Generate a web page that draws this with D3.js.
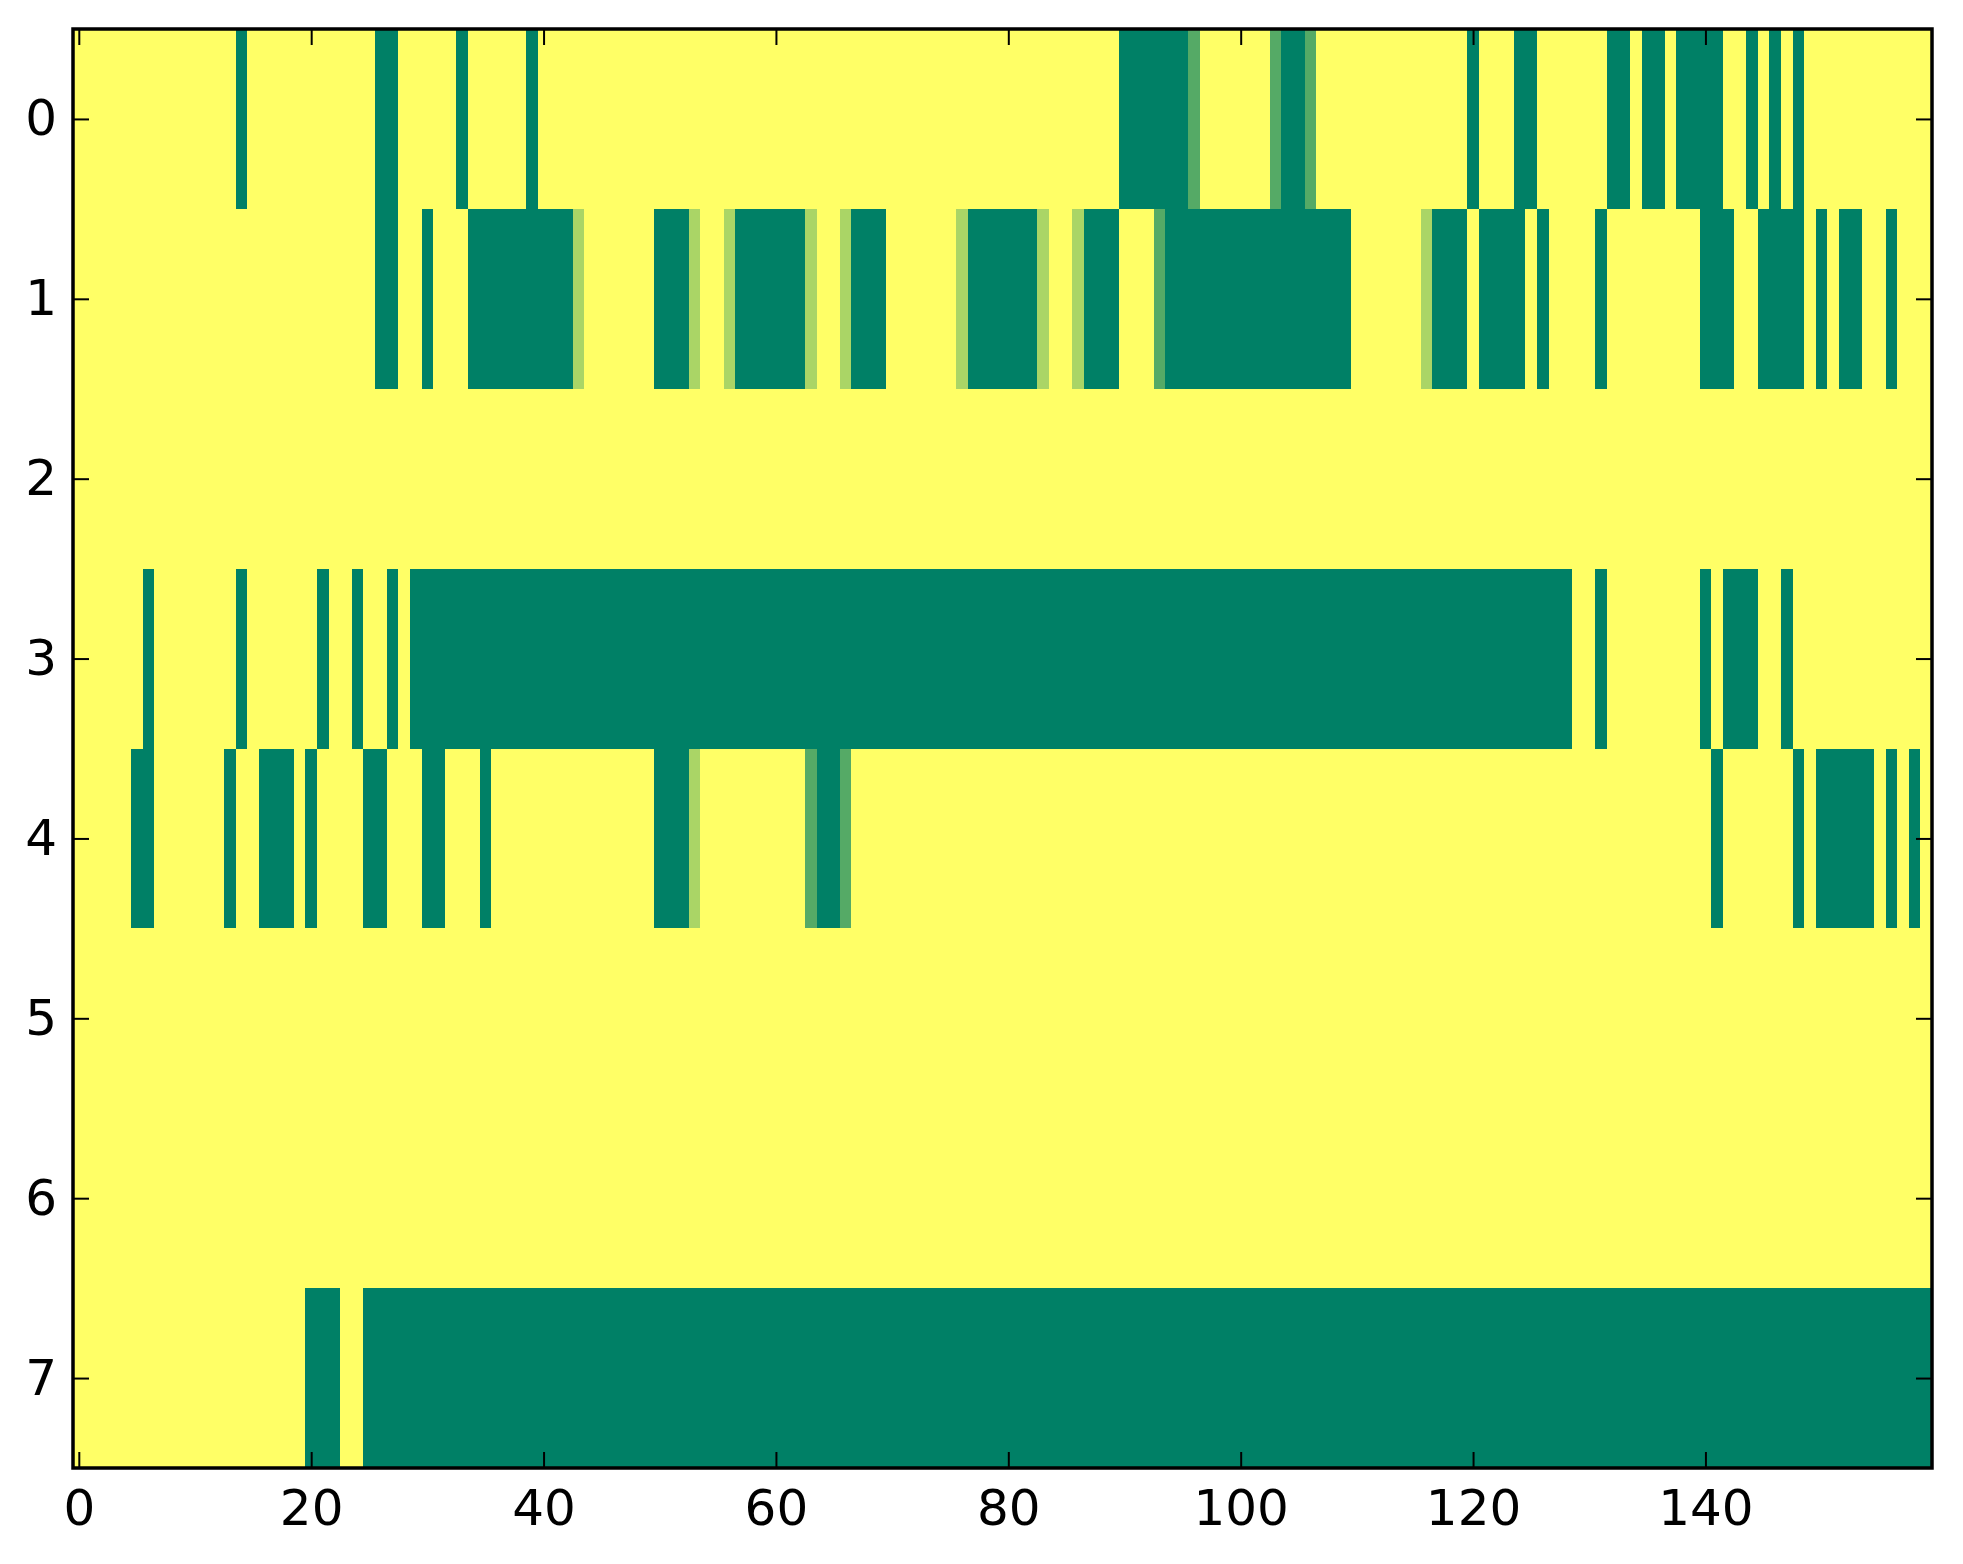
<!DOCTYPE html>
<html>
<head>
<meta charset="utf-8">
<script src="https://cdn.jsdelivr.net/npm/d3@7"></script>
<style>
  html, body { margin: 0; padding: 0; background: #ffffff; }
  svg { display: block; }
  .tick text { font-family: "DejaVu Sans", sans-serif; font-size: 50px; fill: #000; }
</style>
</head>
<body>
<svg id="chart" width="1963" height="1564"></svg>
<script>
// Level values: 0 = dark green (min), 1 = mid green, 2 = light green, 3 = yellow (max)
const rowLabels = [0, 1, 2, 3, 4, 5, 6, 7];
const xTickValues = [0, 20, 40, 60, 80, 100, 120, 140];

const row0 = [
 3,3,3,3,3,3,3,3,3,3, 3,3,3,3,0,3,3,3,3,3, 3,3,3,3,3,3,0,0,3,3, 3,3,3,0,3,3,3,3,3,0,
 3,3,3,3,3,3,3,3,3,3, 3,3,3,3,3,3,3,3,3,3, 3,3,3,3,3,3,3,3,3,3, 3,3,3,3,3,3,3,3,3,3,
 3,3,3,3,3,3,3,3,3,3, 0,0,0,0,0,0,1,3,3,3, 3,3,3,1,0,0,1,3,3,3, 3,3,3,3,3,3,3,3,3,3,
 0,3,3,3,0,0,3,3,3,3, 3,3,0,0,3,0,0,3,0,0, 0,0,3,3,0,3,0,3,0,3, 3,3,3,3,3,3,3,3,3,3
];
const row1 = [
 3,3,3,3,3,3,3,3,3,3, 3,3,3,3,3,3,3,3,3,3, 3,3,3,3,3,3,0,0,3,3, 0,3,3,3,0,0,0,0,0,0,
 0,0,0,2,3,3,3,3,3,3, 0,0,0,2,3,3,2,0,0,0, 0,0,0,2,3,3,2,0,0,0, 3,3,3,3,3,3,2,0,0,0,
 0,0,0,2,3,3,2,0,0,0, 3,3,3,1,0,0,0,0,0,0, 0,0,0,0,0,0,0,0,0,0, 3,3,3,3,3,3,2,0,0,0,
 3,0,0,0,0,3,0,3,3,3, 3,0,3,3,3,3,3,3,3,3, 0,0,0,3,3,0,0,0,0,3, 0,3,0,0,3,3,0,3,3,3
];
const row2 = [
 3,3,3,3,3,3,3,3,3,3, 3,3,3,3,3,3,3,3,3,3, 3,3,3,3,3,3,3,3,3,3, 3,3,3,3,3,3,3,3,3,3,
 3,3,3,3,3,3,3,3,3,3, 3,3,3,3,3,3,3,3,3,3, 3,3,3,3,3,3,3,3,3,3, 3,3,3,3,3,3,3,3,3,3,
 3,3,3,3,3,3,3,3,3,3, 3,3,3,3,3,3,3,3,3,3, 3,3,3,3,3,3,3,3,3,3, 3,3,3,3,3,3,3,3,3,3,
 3,3,3,3,3,3,3,3,3,3, 3,3,3,3,3,3,3,3,3,3, 3,3,3,3,3,3,3,3,3,3, 3,3,3,3,3,3,3,3,3,3
];
const row3 = [
 3,3,3,3,3,3,0,3,3,3, 3,3,3,3,0,3,3,3,3,3, 3,0,3,3,0,3,3,0,3,0, 0,0,0,0,0,0,0,0,0,0,
 0,0,0,0,0,0,0,0,0,0, 0,0,0,0,0,0,0,0,0,0, 0,0,0,0,0,0,0,0,0,0, 0,0,0,0,0,0,0,0,0,0,
 0,0,0,0,0,0,0,0,0,0, 0,0,0,0,0,0,0,0,0,0, 0,0,0,0,0,0,0,0,0,0, 0,0,0,0,0,0,0,0,0,0,
 0,0,0,0,0,0,0,0,0,3, 3,0,3,3,3,3,3,3,3,3, 0,3,0,0,0,3,3,0,3,3, 3,3,3,3,3,3,3,3,3,3
];
const row4 = [
 3,3,3,3,3,0,0,3,3,3, 3,3,3,0,3,3,0,0,0,3, 0,3,3,3,3,0,0,3,3,3, 0,0,3,3,3,0,3,3,3,3,
 3,3,3,3,3,3,3,3,3,3, 0,0,0,2,3,3,3,3,3,3, 3,3,3,1,0,0,1,3,3,3, 3,3,3,3,3,3,3,3,3,3,
 3,3,3,3,3,3,3,3,3,3, 3,3,3,3,3,3,3,3,3,3, 3,3,3,3,3,3,3,3,3,3, 3,3,3,3,3,3,3,3,3,3,
 3,3,3,3,3,3,3,3,3,3, 3,3,3,3,3,3,3,3,3,3, 3,0,3,3,3,3,3,3,0,3, 0,0,0,0,0,3,0,3,0,3
];
const row5 = [
 3,3,3,3,3,3,3,3,3,3, 3,3,3,3,3,3,3,3,3,3, 3,3,3,3,3,3,3,3,3,3, 3,3,3,3,3,3,3,3,3,3,
 3,3,3,3,3,3,3,3,3,3, 3,3,3,3,3,3,3,3,3,3, 3,3,3,3,3,3,3,3,3,3, 3,3,3,3,3,3,3,3,3,3,
 3,3,3,3,3,3,3,3,3,3, 3,3,3,3,3,3,3,3,3,3, 3,3,3,3,3,3,3,3,3,3, 3,3,3,3,3,3,3,3,3,3,
 3,3,3,3,3,3,3,3,3,3, 3,3,3,3,3,3,3,3,3,3, 3,3,3,3,3,3,3,3,3,3, 3,3,3,3,3,3,3,3,3,3
];
const row6 = [
 3,3,3,3,3,3,3,3,3,3, 3,3,3,3,3,3,3,3,3,3, 3,3,3,3,3,3,3,3,3,3, 3,3,3,3,3,3,3,3,3,3,
 3,3,3,3,3,3,3,3,3,3, 3,3,3,3,3,3,3,3,3,3, 3,3,3,3,3,3,3,3,3,3, 3,3,3,3,3,3,3,3,3,3,
 3,3,3,3,3,3,3,3,3,3, 3,3,3,3,3,3,3,3,3,3, 3,3,3,3,3,3,3,3,3,3, 3,3,3,3,3,3,3,3,3,3,
 3,3,3,3,3,3,3,3,3,3, 3,3,3,3,3,3,3,3,3,3, 3,3,3,3,3,3,3,3,3,3, 3,3,3,3,3,3,3,3,3,3
];
const row7 = [
 3,3,3,3,3,3,3,3,3,3, 3,3,3,3,3,3,3,3,3,3, 0,0,0,3,3,0,0,0,0,0, 0,0,0,0,0,0,0,0,0,0,
 0,0,0,0,0,0,0,0,0,0, 0,0,0,0,0,0,0,0,0,0, 0,0,0,0,0,0,0,0,0,0, 0,0,0,0,0,0,0,0,0,0,
 0,0,0,0,0,0,0,0,0,0, 0,0,0,0,0,0,0,0,0,0, 0,0,0,0,0,0,0,0,0,0, 0,0,0,0,0,0,0,0,0,0,
 0,0,0,0,0,0,0,0,0,0, 0,0,0,0,0,0,0,0,0,0, 0,0,0,0,0,0,0,0,0,0, 0,0,0,0,0,0,0,0,0,0
];
const rows = [row0, row1, row2, row3, row4, row5, row6, row7];

const svg = d3.select("#chart");
const margin = {left: 73, top: 29, right: 31, bottom: 96};
const W = 1963 - margin.left - margin.right;
const H = 1564 - margin.top - margin.bottom;
const nCols = row0.length;

const x = d3.scaleLinear().domain([-0.5, nCols - 0.5]).range([0, W]);
const y = d3.scaleLinear().domain([-0.5, rowLabels.length - 0.5]).range([0, H]);

// matplotlib "summer" colormap
const color = d3.scaleLinear()
  .domain([0, 3])
  .range(["rgb(0,128,102)", "rgb(255,255,102)"])
  .interpolate(d3.interpolateRgb);

const g = svg.append("g").attr("transform", `translate(${margin.left},${margin.top})`);

const cells = [];
rows.forEach((r, ri) => r.forEach((v, ci) => cells.push({row: rowLabels[ri], col: ci, v})));

g.append("g").selectAll("rect").data(cells).join("rect")
  .attr("x", d => x(d.col - 0.5))
  .attr("y", d => y(d.row - 0.5))
  .attr("width", d => x(d.col + 0.5) - x(d.col - 0.5) + 0.4)
  .attr("height", d => y(d.row + 0.5) - y(d.row - 0.5) + 0.4)
  .attr("fill", d => color(d.v))
  .attr("shape-rendering", "crispEdges");

const tickLen = 16;
function styleAxis(sel) {
  sel.select(".domain").remove();
  sel.selectAll(".tick line").attr("stroke", "#000").attr("stroke-width", 2);
}

g.append("g").attr("transform", `translate(0,${H})`)
  .call(d3.axisBottom(x).tickValues(xTickValues).tickSizeInner(-tickLen).tickSizeOuter(0).tickPadding(21.5))
  .call(styleAxis);
g.append("g")
  .call(d3.axisTop(x).tickValues(xTickValues).tickSizeInner(-tickLen).tickSizeOuter(0).tickFormat(""))
  .call(styleAxis);
g.append("g")
  .call(d3.axisLeft(y).tickValues(rowLabels).tickSizeInner(-tickLen).tickSizeOuter(0).tickPadding(16))
  .call(styleAxis);
g.append("g").attr("transform", `translate(${W},0)`)
  .call(d3.axisRight(y).tickValues(rowLabels).tickSizeInner(-tickLen).tickSizeOuter(0).tickFormat(""))
  .call(styleAxis);

g.selectAll(".tick text").attr("font-family", "DejaVu Sans").attr("font-size", 50).attr("fill", "#000");

g.append("rect")
  .attr("x", 0).attr("y", 0).attr("width", W).attr("height", H)
  .attr("fill", "none").attr("stroke", "#000").attr("stroke-width", 3.5);
</script>
</body>
</html>
